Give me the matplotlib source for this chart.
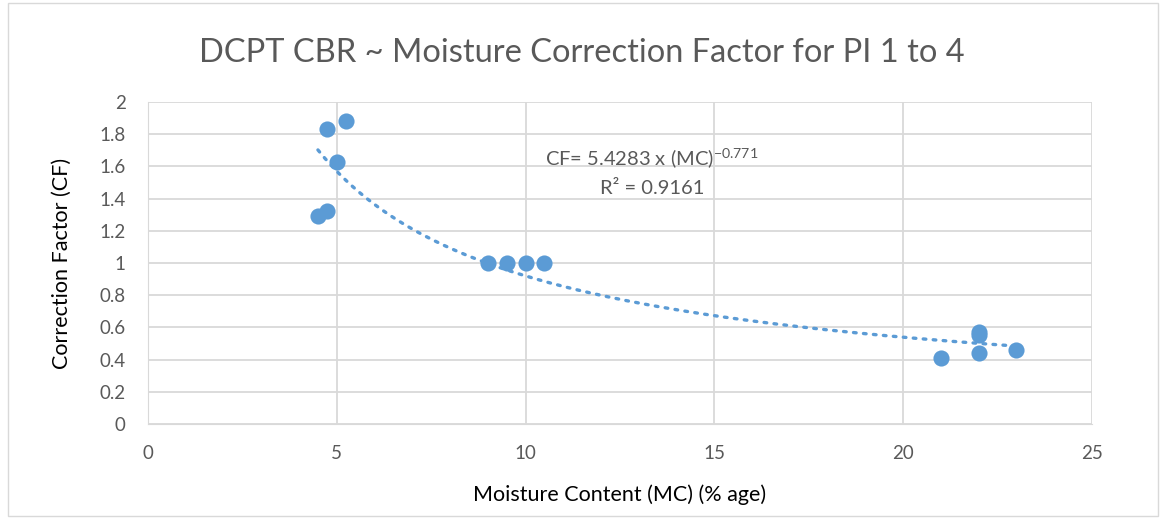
import matplotlib
matplotlib.use("Agg")
import matplotlib.pyplot as plt
import numpy as np
from matplotlib.patches import Rectangle

plt.rcParams['font.family'] = ['Lato', 'DejaVu Sans']
plt.rcParams['mathtext.fontset'] = 'custom'
plt.rcParams['mathtext.rm'] = 'Lato'

# data
moisture = [4.5, 4.75, 4.75, 5.0, 5.25, 9.0, 9.5, 10.0, 10.5, 21.0, 22.0, 22.0, 22.0, 23.0]
cf = [1.29, 1.32, 1.83, 1.63, 1.88, 1.0, 1.0, 1.0, 1.0, 0.41, 0.57, 0.55, 0.44, 0.46]

# power trendline CF = a * MC^b
coef_a = 5.4283
coef_b = -0.771

x_ticks = [0, 5, 10, 15, 20, 25]
y_ticks = [0, 0.2, 0.4, 0.6, 0.8, 1, 1.2, 1.4, 1.6, 1.8, 2]
y_labels = ['0', '0.2', '0.4', '0.6', '0.8', '1', '1.2', '1.4', '1.6', '1.8', '2']

blue = '#5B9BD5'
grid = '#D9D9D9'
txt = '#595959'

fig = plt.figure(figsize=(11.64, 5.18), dpi=100)
ax = fig.add_axes([148/1164, 1 - 424/518, (1092 - 148)/1164, (424 - 102)/518])

# chart border
fig.patches.append(Rectangle((8/1164, 0.004), 1150/1164, 0.99, transform=fig.transFigure,
                             fill=False, edgecolor=grid, lw=1))

xs = np.linspace(min(moisture), max(moisture), 200)
ax.plot(xs, coef_a * xs ** coef_b, color=blue, lw=2.4, linestyle=(0, (0.8, 2.2)),
        dash_capstyle='round', zorder=3)
ax.scatter(moisture, cf, s=135, color=blue, zorder=4, linewidths=0)

ax.set_xlim(0, 25)
ax.set_ylim(0, 2)
ax.set_xticks(x_ticks)
ax.set_yticks(y_ticks)
ax.set_yticklabels(y_labels)
ax.grid(True, color=grid, lw=1.3)
ax.set_axisbelow(True)
for s in ax.spines.values():
    s.set_visible(False)
ax.spines['left'].set_visible(True)
ax.spines['left'].set_color(grid)
ax.spines['bottom'].set_visible(True)
ax.spines['bottom'].set_color(grid)
ax.tick_params(length=0, labelsize=13.5, colors=txt, pad=16)
ax.tick_params(axis='x', pad=15)

ax.set_xlabel('Moisture Content (MC) (% age)', fontsize=15.5, color='black', labelpad=16)
ax.set_ylabel('Correction Factor (CF)', fontsize=15.5, color='black', labelpad=20)
fig.text(0.5, 1 - 53/518, 'DCPT CBR ~ Moisture Correction Factor for PI 1 to 4',
         ha='center', va='center', fontsize=23.5, color=txt)

ax.text(13.35, 1.645, r'CF= 5.4283 x (MC)$^{\mathrm{-0.771}}$', ha='center', va='center',
        fontsize=14.5, color=txt)
ax.text(13.35, 1.465, 'R² = 0.9161', ha='center', va='center', fontsize=14.5, color=txt)

fig.savefig('out.png', dpi=100)
